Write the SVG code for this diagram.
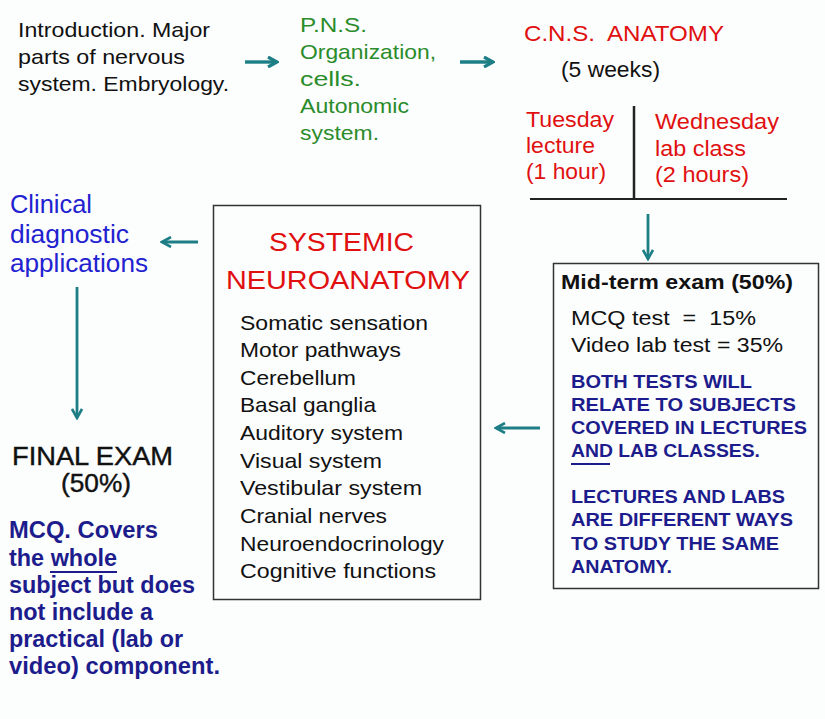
<svg xmlns="http://www.w3.org/2000/svg" width="825" height="719" viewBox="0 0 825 719">
<style>
text{font-family:"Liberation Sans",Arial,sans-serif;}
.blk{fill:#111;font-size:21px;}
.grn{fill:#2a8c2a;font-size:21px;}
.red{fill:#e01010;font-size:22.5px;}
.blu{fill:#2222d0;font-size:25px;}
.lst{fill:#111;font-size:21px;}
.nav{fill:#1c1c8c;font-weight:bold;font-size:18px;}
.nav2{fill:#1c1c8c;font-weight:bold;font-size:23px;}
.box{fill:none;stroke:#333;stroke-width:1.5;}
.arr{stroke:#1d7f85;stroke-width:2.8;fill:none;}
.arrt{stroke:#1d7f85;stroke-width:3.4;fill:none;}
</style>
<defs>
<marker id="ah" viewBox="0 0 12 12" refX="10" refY="6" markerWidth="12" markerHeight="12" markerUnits="userSpaceOnUse" orient="auto">
<path d="M1,1 L10,6 L1,11" fill="none" stroke="#1d7f85" stroke-width="2.6"/>
</marker>
<marker id="ah2" viewBox="0 0 12 12" refX="10" refY="6" markerWidth="12" markerHeight="12" markerUnits="userSpaceOnUse" orient="auto">
<path d="M1,1 L10,6 L1,11" fill="none" stroke="#1d7f85" stroke-width="3.2"/>
</marker>
</defs>
<rect width="825" height="719" fill="#fcfdfd"/>

<g id="intro">
<text class="blk" x="18" y="37" textLength="192" lengthAdjust="spacingAndGlyphs">Introduction. Major</text>
<text class="blk" x="18" y="64" textLength="167" lengthAdjust="spacingAndGlyphs">parts of nervous</text>
<text class="blk" x="18" y="91" textLength="211" lengthAdjust="spacingAndGlyphs">system. Embryology.</text>
</g>

<g id="pns">
<text class="grn" x="300" y="32" textLength="67" lengthAdjust="spacingAndGlyphs">P.N.S.</text>
<text class="grn" x="300" y="59" textLength="136" lengthAdjust="spacingAndGlyphs">Organization,</text>
<text class="grn" x="300" y="86" textLength="61" lengthAdjust="spacingAndGlyphs">cells.</text>
<text class="grn" x="300" y="113" textLength="109" lengthAdjust="spacingAndGlyphs">Autonomic</text>
<text class="grn" x="300" y="140" textLength="79" lengthAdjust="spacingAndGlyphs">system.</text>
</g>

<g id="cns">
<text class="red" x="524" y="41" textLength="200" lengthAdjust="spacingAndGlyphs">C.N.S.&#160; ANATOMY</text>
<text x="561" y="77" fill="#111" font-size="21.5" textLength="99" lengthAdjust="spacingAndGlyphs">(5 weeks)</text>
<text class="red" x="526" y="127" textLength="88" lengthAdjust="spacingAndGlyphs">Tuesday</text>
<text class="red" x="526" y="153" textLength="69" lengthAdjust="spacingAndGlyphs">lecture</text>
<text class="red" x="526" y="179" textLength="80" lengthAdjust="spacingAndGlyphs">(1 hour)</text>
<text class="red" x="655" y="129" textLength="124" lengthAdjust="spacingAndGlyphs">Wednesday</text>
<text class="red" x="655" y="156" textLength="91" lengthAdjust="spacingAndGlyphs">lab class</text>
<text class="red" x="655" y="182" textLength="94" lengthAdjust="spacingAndGlyphs">(2 hours)</text>
<line x1="634" y1="106" x2="634" y2="199" stroke="#222" stroke-width="2.5"/>
<line x1="530" y1="199" x2="787" y2="199" stroke="#222" stroke-width="2"/>
</g>

<g id="systemic">
<rect class="box" x="213.5" y="205.5" width="267" height="394"/>
<text x="269" y="251" fill="#e01010" font-size="26.5" textLength="145" lengthAdjust="spacingAndGlyphs">SYSTEMIC</text>
<text x="226" y="289" fill="#e01010" font-size="26.5" textLength="244" lengthAdjust="spacingAndGlyphs">NEUROANATOMY</text>
<text class="lst" x="240" y="330" textLength="188" lengthAdjust="spacingAndGlyphs">Somatic sensation</text>
<text class="lst" x="240" y="357" textLength="161" lengthAdjust="spacingAndGlyphs">Motor pathways</text>
<text class="lst" x="240" y="385" textLength="116" lengthAdjust="spacingAndGlyphs">Cerebellum</text>
<text class="lst" x="240" y="412" textLength="136" lengthAdjust="spacingAndGlyphs">Basal ganglia</text>
<text class="lst" x="240" y="440" textLength="163" lengthAdjust="spacingAndGlyphs">Auditory system</text>
<text class="lst" x="240" y="468" textLength="142" lengthAdjust="spacingAndGlyphs">Visual system</text>
<text class="lst" x="240" y="495" textLength="182" lengthAdjust="spacingAndGlyphs">Vestibular system</text>
<text class="lst" x="240" y="523" textLength="147" lengthAdjust="spacingAndGlyphs">Cranial nerves</text>
<text class="lst" x="240" y="551" textLength="204" lengthAdjust="spacingAndGlyphs">Neuroendocrinology</text>
<text class="lst" x="240" y="578" textLength="196" lengthAdjust="spacingAndGlyphs">Cognitive functions</text>
</g>

<g id="midterm">
<rect class="box" x="553.5" y="263.5" width="265" height="325"/>
<text x="561" y="289" fill="#111" font-weight="bold" font-size="19.5" textLength="232" lengthAdjust="spacingAndGlyphs">Mid-term exam (50%)</text>
<text x="571" y="325" fill="#111" font-size="20.5" textLength="185" lengthAdjust="spacingAndGlyphs">MCQ test&#160; =&#160; 15%</text>
<text x="571" y="352" fill="#111" font-size="20.5" textLength="212" lengthAdjust="spacingAndGlyphs">Video lab test = 35%</text>
<text class="nav" x="571" y="388" textLength="181" lengthAdjust="spacingAndGlyphs">BOTH TESTS WILL</text>
<text class="nav" x="571" y="411" textLength="225" lengthAdjust="spacingAndGlyphs">RELATE TO SUBJECTS</text>
<text class="nav" x="571" y="434" textLength="236" lengthAdjust="spacingAndGlyphs">COVERED IN LECTURES</text>
<text class="nav" x="571" y="457" textLength="189" lengthAdjust="spacingAndGlyphs">AND LAB CLASSES.</text>
<line x1="571" y1="464" x2="610" y2="464" stroke="#1c1c8c" stroke-width="2"/>
<text class="nav" x="571" y="503" textLength="214" lengthAdjust="spacingAndGlyphs">LECTURES AND LABS</text>
<text class="nav" x="571" y="526" textLength="222" lengthAdjust="spacingAndGlyphs">ARE DIFFERENT WAYS</text>
<text class="nav" x="571" y="550" textLength="208" lengthAdjust="spacingAndGlyphs">TO STUDY THE SAME</text>
<text class="nav" x="571" y="573" textLength="101" lengthAdjust="spacingAndGlyphs">ANATOMY.</text>
</g>

<g id="clinical">
<text class="blu" x="10" y="213" textLength="82" lengthAdjust="spacingAndGlyphs">Clinical</text>
<text class="blu" x="10" y="243" textLength="119" lengthAdjust="spacingAndGlyphs">diagnostic</text>
<text class="blu" x="10" y="272" textLength="138" lengthAdjust="spacingAndGlyphs">applications</text>
</g>

<g id="final">
<text x="12" y="465" fill="#111" stroke="#111" stroke-width="0.4" font-size="25.5" textLength="161" lengthAdjust="spacingAndGlyphs">FINAL EXAM</text>
<text x="61" y="492" fill="#111" stroke="#111" stroke-width="0.4" font-size="25.5" textLength="70" lengthAdjust="spacingAndGlyphs">(50%)</text>
<text class="nav2" x="9" y="538" textLength="149" lengthAdjust="spacingAndGlyphs">MCQ. Covers</text>
<text class="nav2" x="9" y="566" textLength="108" lengthAdjust="spacingAndGlyphs">the whole</text>
<line x1="50" y1="572" x2="117" y2="572" stroke="#1c1c8c" stroke-width="2"/>
<text class="nav2" x="9" y="593" textLength="186" lengthAdjust="spacingAndGlyphs">subject but does</text>
<text class="nav2" x="9" y="620" textLength="144" lengthAdjust="spacingAndGlyphs">not include a</text>
<text class="nav2" x="9" y="647" textLength="174" lengthAdjust="spacingAndGlyphs">practical (lab or</text>
<text class="nav2" x="9" y="674" textLength="211" lengthAdjust="spacingAndGlyphs">video) component.</text>
</g>

<g id="connectors">
<line class="arrt" x1="245" y1="62" x2="277" y2="62" marker-end="url(#ah2)"/>
<line class="arrt" x1="460" y1="62" x2="493" y2="62" marker-end="url(#ah2)"/>
<line class="arr" x1="648" y1="214" x2="648" y2="259" marker-end="url(#ah)"/>
<line class="arr" x1="540" y1="428" x2="496" y2="428" marker-end="url(#ah)"/>
<line class="arr" x1="198" y1="242" x2="162" y2="242" marker-end="url(#ah)"/>
<line class="arr" x1="77" y1="287" x2="77" y2="418" marker-end="url(#ah)"/>
</g>
</svg>
